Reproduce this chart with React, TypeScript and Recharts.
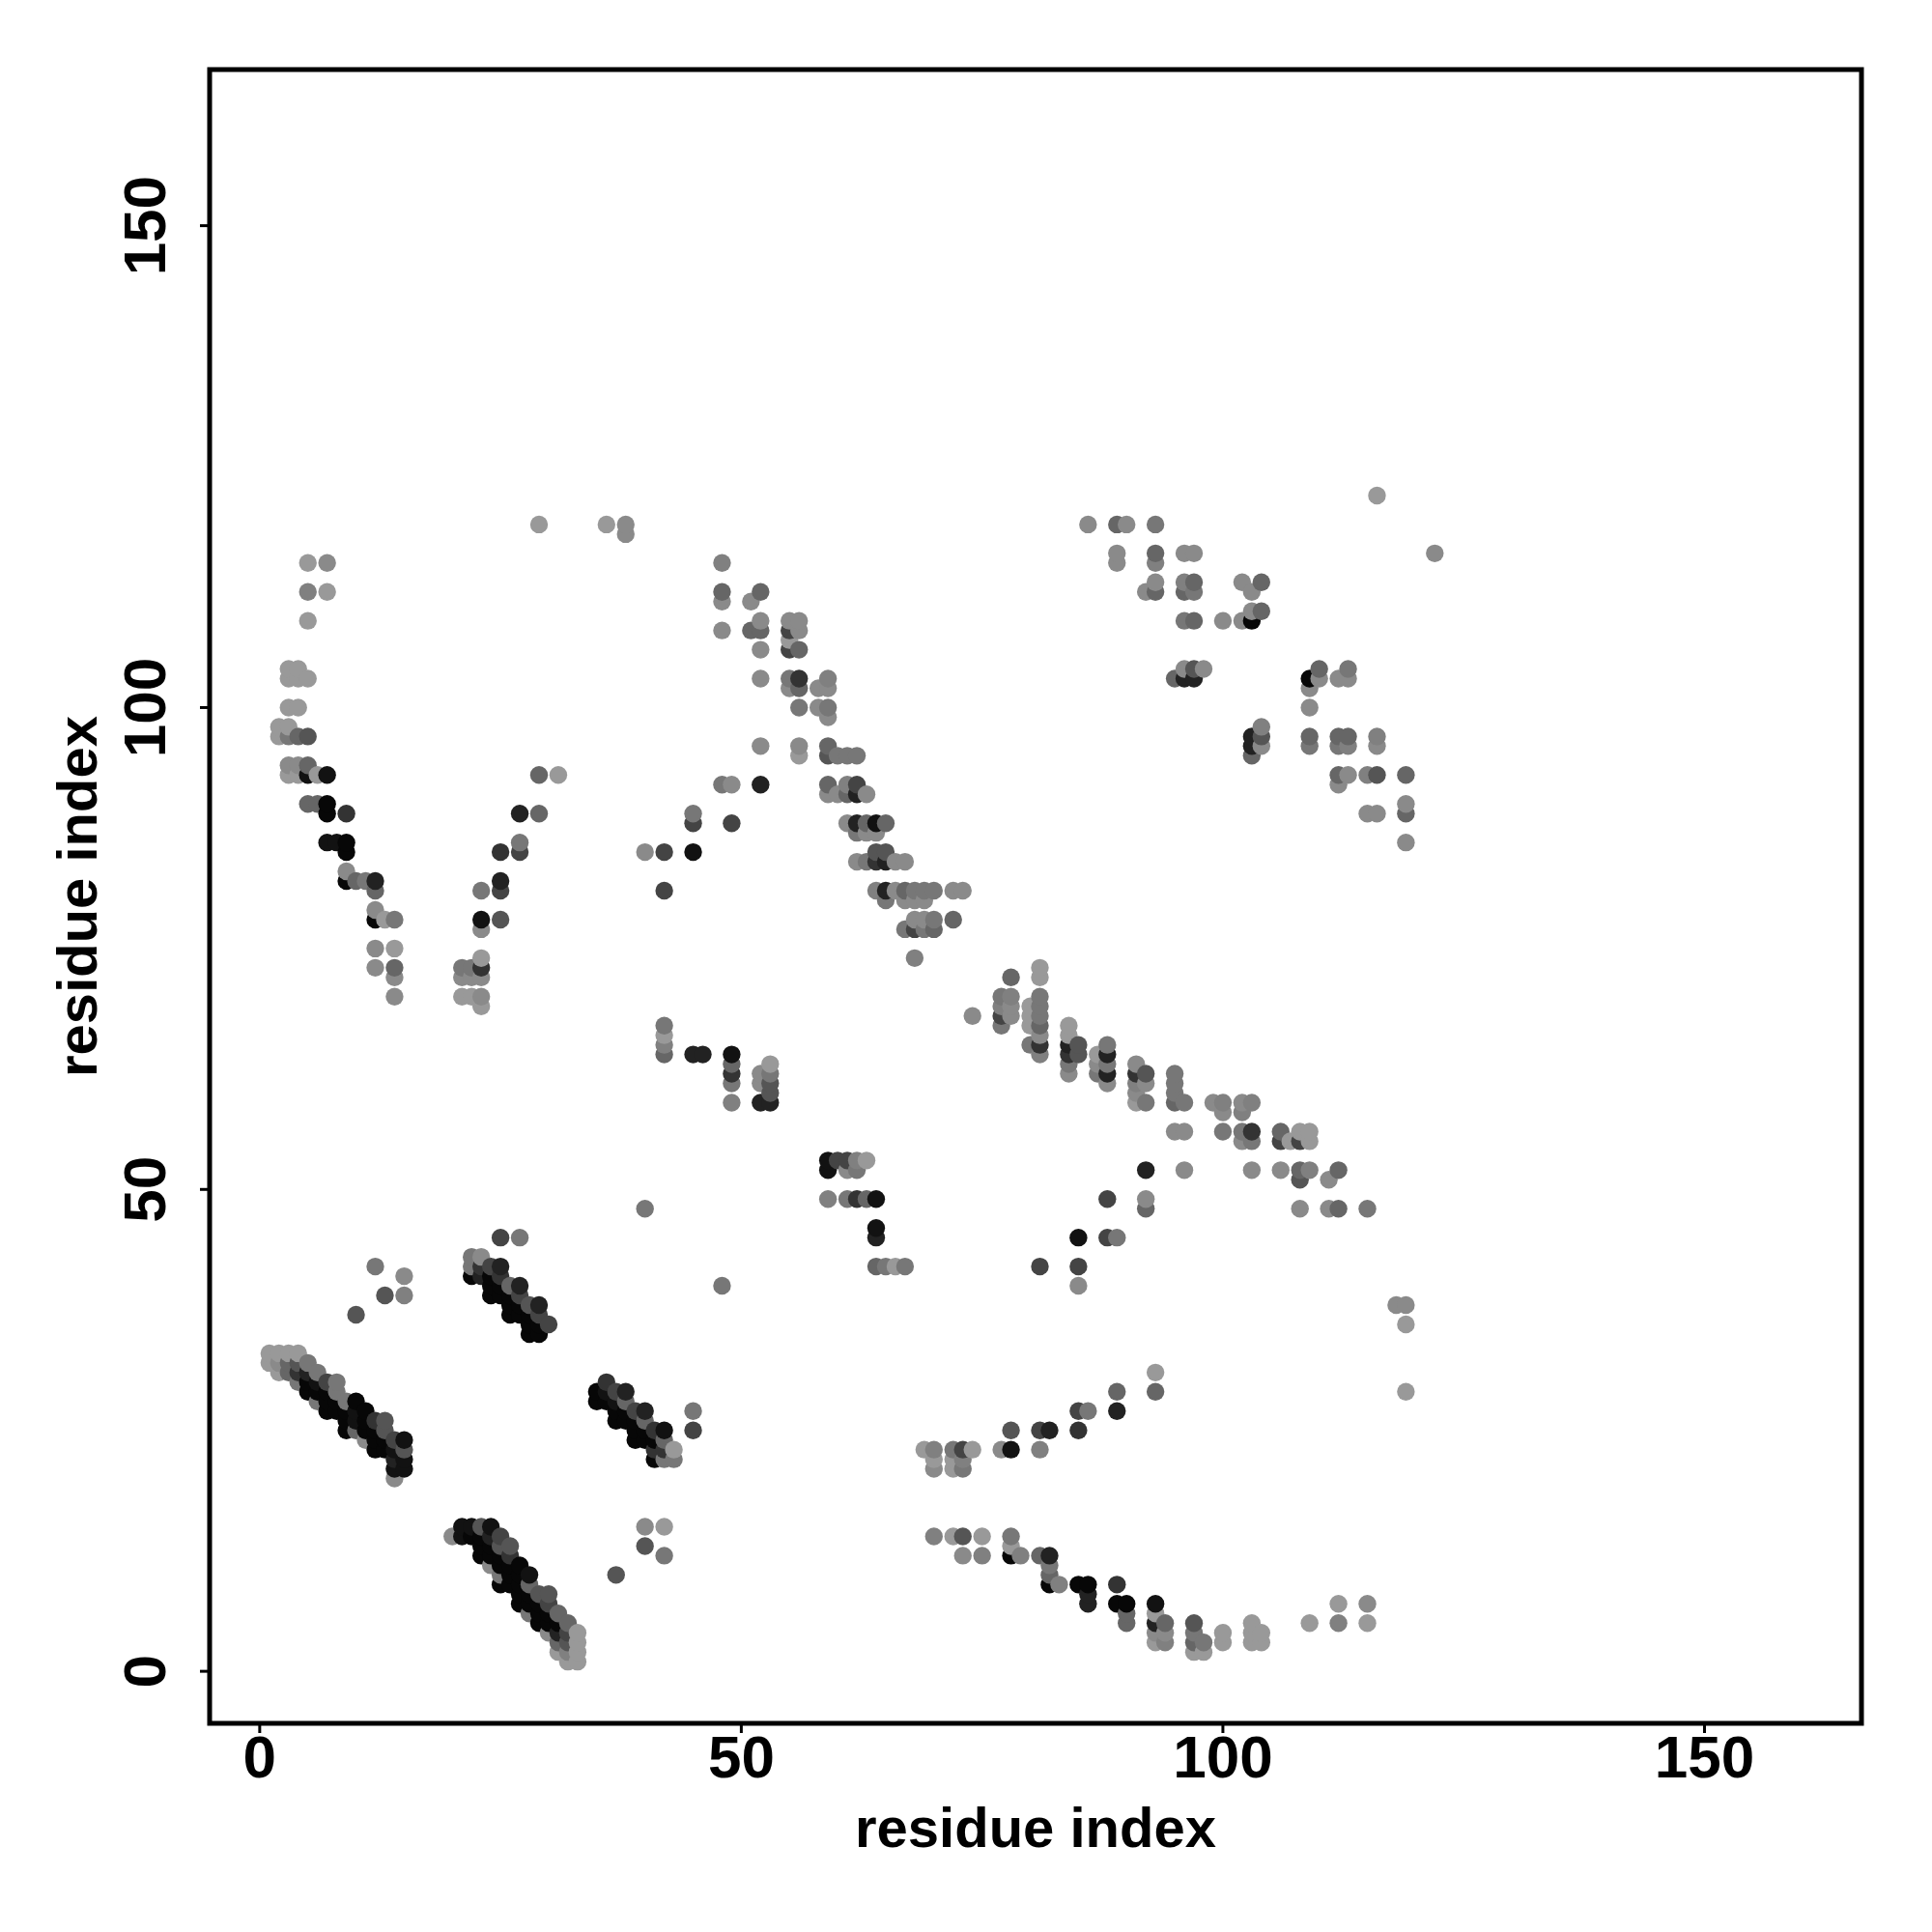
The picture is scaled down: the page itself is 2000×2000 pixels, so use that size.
import React from "react";
import { ScatterChart, Scatter, XAxis, YAxis, ReferenceArea } from "recharts";

type Contact = [number, number, number];

const tickValues = [0, 50, 100, 150];
const xDomain = [-5.2, 166.3];
const yDomain = [-5.4, 166.2];
const axisTitle = "residue index";

// [residue i, residue j, contact strength 1..11]
const diagonalA: Contact[] = [
  [1,33,1],[2,33,1],[3,33,1],[4,33,1],
  [1,32,1],[2,32,2],[3,32,5],[4,32,6],[5,32,4],
  [2,31,1],[3,31,5],[4,31,8],[5,31,9],[6,31,4],
  [4,30,4],[5,30,11],[6,30,10],[7,30,7],[8,30,4],
  [5,29,11],[6,29,11],[7,29,11],[8,29,4],
  [6,28,4],[7,28,11],[8,28,11],[9,28,4],[10,28,11],
  [7,27,11],[8,27,11],[9,27,11],[10,27,10],[11,27,11],
  [9,26,11],[10,26,10],[11,26,11],[12,26,8],[13,26,6],
  [9,25,11],[10,25,5],[11,25,11],[12,25,11],[13,25,6],
  [11,24,2],[12,24,11],[13,24,11],[14,24,7],[15,24,10],
  [12,23,11],[13,23,11],[14,23,10],[15,23,6],
  [14,22,9],[15,22,10],[14,21,10],[15,21,10],[14,20,2],
];
const diagonalB: Contact[] = [
  [21,15,10],[22,15,10],[23,15,6],[24,15,10],
  [20,14,2],[21,14,10],[22,14,11],[23,14,11],[24,14,9],[25,14,7],
  [23,13,11],[24,13,11],[25,13,6],[26,13,6],
  [23,12,11],[24,12,11],[25,12,11],[26,12,8],
  [24,11,2],[25,11,11],[26,11,11],[27,11,11],
  [25,10,4],[26,10,11],[27,10,11],[28,10,10],
  [25,9,11],[26,9,11],[27,9,11],[28,9,5],
  [27,8,11],[28,8,11],[29,8,6],[30,8,6],
  [27,7,11],[28,7,11],[29,7,11],[30,7,7],
  [28,6,4],[29,6,11],[30,6,11],[31,6,5],
  [29,5,11],[30,5,11],[31,5,11],[32,5,5],
  [30,4,2],[31,4,9],[32,4,7],[33,4,1],
  [31,3,5],[32,3,6],[33,3,1],
  [31,2,1],[32,2,3],[33,2,1],[32,1,1],[33,1,1],
];
const diagonalC: Contact[] = [
  [36,30,8],[35,29,11],[36,29,10],[37,29,7],[38,29,9],
  [35,28,11],[36,28,11],[37,28,10],[38,28,5],
  [37,27,11],[38,27,11],[39,27,7],[40,27,9],
  [37,26,11],[38,26,11],[39,26,11],[40,26,5],
  [39,25,11],[40,25,11],[41,25,8],[42,25,10],
  [39,24,11],[40,24,11],[41,24,11],[42,24,5],
  [41,23,8],[42,23,8],[43,23,1],
  [41,22,11],[42,22,4],[43,22,4],
  [45,27,4],[45,25,7],
];
const diagonalD: Contact[] = [
  [25,45,7],[27,45,4],
  [22,43,4],[23,43,2],
  [22,42,4],[23,42,8],[24,42,7],[25,42,9],
  [22,41,11],[23,41,9],[24,41,11],[25,41,8],
  [24,40,11],[25,40,11],[26,40,5],[27,40,9],
  [24,39,11],[25,39,11],[26,39,11],[27,39,7],
  [26,38,11],[27,38,11],[28,38,6],[29,38,9],
  [26,37,11],[27,37,11],[28,37,11],[29,37,7],
  [28,36,11],[29,36,11],[30,36,7],
  [28,35,11],[29,35,11],
];
const looseLow: Contact[] = [
  [12,42,4],[15,41,2],[13,39,6],[15,39,3],[10,37,6],
  [40,15,2],[42,15,1],[40,13,6],[42,12,4],[37,10,6],
  [40,48,4],[48,40,4],
];
const tailLow: Contact[] = [
  [119,38,2],[118,38,2],[119,36,1],[119,29,1],
  [93,31,1],[93,29,5],[89,29,5],[89,27,9],[85,27,7],[86,27,4],
  [78,25,6],[81,25,7],[82,25,9],[85,25,8],
  [69,23,1],[70,23,3],[72,23,4],[73,23,7],[74,23,1],[77,23,2],[78,23,10],[81,23,3],
  [70,22,1],[72,22,1],[73,22,3],[70,21,2],[72,21,1],[73,21,4],
  [70,14,3],[72,14,1],[73,14,6],[75,14,1],[78,14,4],[78,13,1],[78,12,11],[79,12,3],[73,12,2],[75,12,3],
  [81,12,5],[82,12,9],[82,11,4],[82,10,5],[82,9,11],[83,9,3],
  [85,9,11],[86,9,11],[86,8,9],[86,7,9],[89,9,8],[89,7,11],[90,7,11],[90,6,5],[90,5,5],
  [93,7,10],[93,6,1],[93,5,9],[94,5,5],[93,4,2],[94,4,2],[93,3,1],[94,3,3],
  [97,5,6],[97,4,4],[97,3,5],[97,2,1],[98,3,4],[98,2,1],
  [100,4,1],[100,3,1],[103,5,1],[103,4,1],[103,3,1],[104,4,1],[104,3,1],
  [109,5,1],[112,7,1],[112,5,3],[115,7,2],[115,5,1],
];
const armLeft: Contact[] = [
  [5,115,1],[7,115,2],[5,112,3],[7,112,1],[5,109,1],
  [3,104,1],[4,104,1],[3,103,1],[4,103,1],[5,103,1],[3,100,1],[4,100,1],
  [2,98,1],[3,98,1],[2,97,1],[3,97,4],[4,97,5],[5,97,6],
  [3,94,2],[4,94,2],[5,94,5],[3,93,1],[4,93,1],[5,93,10],[6,93,1],[7,93,10],
  [5,90,5],[6,90,5],[7,90,11],[7,89,11],[9,89,8],
  [7,86,10],[8,86,10],[9,86,11],[9,85,11],
  [9,83,2],[9,82,11],[10,82,5],[11,82,4],[12,82,9],[12,81,5],
  [12,79,2],[12,78,11],[13,78,1],[14,78,4],
  [12,75,2],[14,75,1],[12,73,2],[14,73,5],[14,72,2],[14,70,2],
];
const armRight: Contact[] = [
  [21,73,4],[22,73,4],[21,72,2],[22,72,2],[23,72,2],[23,73,8],[23,74,1],
  [21,70,1],[22,70,1],[23,70,2],[23,69,1],
  [23,78,10],[25,78,6],[23,77,2],
  [23,81,4],[25,81,7],[25,82,9],
  [25,85,8],[27,85,7],[27,86,4],
  [27,89,9],[29,89,5],[29,93,5],[31,93,1],
  [29,119,1],[36,119,1],[38,119,2],[38,118,2],
];
const armCentre: Contact[] = [
  [48,115,3],[48,112,5],[52,112,5],[48,111,2],[51,111,2],
  [52,109,2],[55,109,2],[56,109,2],[48,108,2],[51,108,5],[52,108,5],[55,108,7],[56,108,2],
  [55,107,1],[52,106,2],[55,106,7],[56,106,5],
  [52,103,2],[55,103,4],[56,103,8],[55,102,2],[56,102,5],[58,102,2],[59,102,2],[59,103,3],
  [56,100,4],[58,100,2],[59,100,4],[59,99,2],
  [52,96,2],[56,96,2],[59,96,5],[56,95,1],[59,95,6],[60,95,4],[61,95,4],[62,95,4],
  [48,92,4],[49,92,2],[52,92,9],[59,92,5],[61,92,3],[62,92,7],
  [59,91,2],[60,91,2],[61,91,5],[62,91,9],[63,91,2],
  [45,89,4],[45,88,7],[49,88,7],
  [61,88,2],[62,88,9],[63,88,5],[64,88,10],[65,88,5],
  [62,87,4],[63,87,2],[64,87,2],
  [40,85,2],[42,85,7],[45,85,10],[64,85,6],[65,85,6],
  [62,84,2],[63,84,4],[64,84,8],[65,84,9],[66,84,2],[67,84,2],
  [42,81,7],[64,81,3],[65,81,9],[66,81,2],[67,81,5],[68,81,4],[69,81,4],[70,81,4],[72,81,2],[73,81,2],
  [65,80,4],[67,80,2],[68,80,2],[69,80,2],
  [68,78,2],[69,78,2],[70,78,4],[72,78,5],
  [67,77,4],[68,77,7],[69,77,4],[70,77,5],[68,74,3],
];
const midBand: Contact[] = [
  [42,67,4],[42,66,1],[42,65,3],[42,64,5],[45,64,9],[46,64,9],
  [49,64,10],[49,63,5],[49,62,8],[49,61,4],[49,59,3],
  [52,62,2],[52,61,2],[52,59,9],[53,63,1],[53,62,4],[53,61,6],[53,60,6],[53,59,9],
  [59,53,10],[59,52,10],[60,53,7],[61,53,7],[62,53,3],[63,53,1],[61,52,2],[62,52,4],
  [59,49,3],[61,49,4],[62,49,8],[63,49,5],[64,49,10],[64,46,10],[64,45,9],
  [64,42,5],[65,42,4],[66,42,1],[67,42,4],
];
const lowerRightBand: Contact[] = [
  [74,68,2],[78,72,5],[77,70,4],[78,70,3],[77,69,3],[78,69,2],[77,68,7],[78,68,2],[77,67,4],
  [80,69,1],[80,68,1],[80,67,1],[80,65,4],
  [81,73,1],[81,72,1],[81,70,4],[81,69,4],[81,68,4],[81,67,5],[81,66,2],[81,65,8],[81,64,3],
  [84,67,1],[84,66,1],[84,65,9],[84,64,8],[84,63,4],[84,62,2],[85,65,6],[85,64,6],
  [87,64,1],[87,63,2],[87,62,4],[88,65,4],[88,64,9],[88,63,4],[88,62,9],[88,61,2],
  [91,63,2],[91,62,8],[91,61,3],[91,60,2],[91,59,1],[92,62,6],[92,61,2],[92,59,4],
  [95,62,4],[95,61,4],[95,60,4],[95,59,5],[96,59,4],[95,56,2],[96,56,2],
  [99,59,2],[100,59,3],[100,58,2],[100,56,4],[102,59,2],[103,59,3],[102,58,3],
  [102,56,4],[103,56,8],[102,55,2],[103,55,4],
  [106,56,5],[106,55,7],[107,55,1],[108,56,1],[109,56,1],[108,55,7],[109,55,1],
  [92,52,9],[96,52,2],[103,52,2],[106,52,2],[108,52,5],[108,51,6],[109,52,3],[111,51,2],[112,52,5],
  [88,49,7],[92,49,2],[92,48,5],[108,48,2],[111,48,2],[112,48,5],[115,48,4],
  [85,45,10],[88,45,7],[89,45,4],[81,42,7],[85,42,7],[85,40,2],
];
const upperRight: Contact[] = [
  [116,122,1],[86,119,2],[89,119,5],[90,119,2],[93,119,4],[122,116,2],
  [89,116,2],[89,115,2],[93,116,5],[93,115,3],[96,116,2],[97,116,2],
  [92,112,2],[93,113,2],[93,112,5],[96,113,3],[97,113,5],[96,112,5],[97,112,4],
  [102,113,2],[103,112,2],[104,113,5],
  [96,109,4],[97,109,5],[100,109,2],[102,109,2],[103,109,11],[103,110,2],[104,110,5],
  [95,103,5],[96,104,2],[96,103,9],[97,104,6],[97,103,9],[98,104,2],
  [109,103,11],[109,102,2],[110,104,5],[110,103,2],[109,100,2],[112,103,2],[113,104,4],[113,103,2],
  [103,97,9],[103,96,9],[103,95,5],[104,98,3],[104,97,6],[104,96,2],
  [109,97,5],[109,96,4],[112,97,5],[113,97,5],[112,96,4],[113,96,3],[116,97,3],[116,96,2],
  [112,93,5],[112,92,2],[113,93,2],[115,93,3],[116,93,6],[119,93,5],
  [115,89,2],[116,89,2],[119,90,2],[119,89,5],[119,86,2],
];

const shades = ["#ffffff","#999999","#8a8a8a","#808080","#777777","#666666","#555555","#444444","#333333","#222222","#121212","#070707"];

const contacts = [
  ...diagonalA, ...diagonalB, ...diagonalC, ...diagonalD, ...looseLow, ...tailLow,
  ...armLeft, ...armRight, ...armCentre, ...midBand, ...lowerRightBand, ...upperRight,
]
  .map(([i, j, w]) => ({ i, j, w }))
  .sort((a, b) => a.i - b.i || a.j - b.j);

const font = '"Liberation Sans", Arial, sans-serif';

const Dot = (props: any) => (
  <circle cx={props.cx} cy={props.cy} r={9.2} fill={shades[props.payload.w]} />
);

const XTick = (props: any) => (
  <text x={props.x} y={1840} textAnchor="middle" fontFamily={font} fontWeight={700} fontSize={62} fill="#000">
    {props.payload.value}
  </text>
);

const YTick = (props: any) => (
  <text
    x={171}
    y={props.y}
    textAnchor="middle"
    transform={`rotate(-90 171 ${props.y})`}
    fontFamily={font}
    fontWeight={700}
    fontSize={62}
    fill="#000"
  >
    {props.payload.value}
  </text>
);

export default function App() {
  return (
    <div style={{ position: "absolute", left: 0, top: 0, width: 2000, height: 2000, background: "#fff" }}>
      <ScatterChart width={2000} height={2000} margin={{ top: 72, right: 73, bottom: 0, left: 0 }}>
        <XAxis
          type="number"
          dataKey="i"
          domain={xDomain}
          ticks={tickValues}
          allowDataOverflow
          height={216}
          axisLine={false}
          tickLine={{ stroke: "#000", strokeWidth: 3 }}
          tickSize={10}
          tick={<XTick />}
          interval={0}
          label={{
            value: axisTitle,
            position: "insideBottom",
            offset: 88,
            fontFamily: font,
            fontWeight: 700,
            fontSize: 58,
            fill: "#000",
          }}
        />
        <YAxis
          type="number"
          dataKey="j"
          domain={yDomain}
          ticks={tickValues}
          allowDataOverflow
          width={217}
          axisLine={false}
          tickLine={{ stroke: "#000", strokeWidth: 3 }}
          tickSize={10}
          tick={<YTick />}
          interval={0}
          label={{
            value: axisTitle,
            angle: -90,
            position: "insideLeft",
            offset: 79,
            style: { textAnchor: "middle" },
            fontFamily: font,
            fontWeight: 700,
            fontSize: 58,
            fill: "#000",
          }}
        />
        <Scatter data={contacts} isAnimationActive={false} shape={<Dot />} />
        <ReferenceArea
          x1={xDomain[0]}
          x2={xDomain[1]}
          y1={yDomain[0]}
          y2={yDomain[1]}
          fill="none"
          stroke="#000"
          strokeWidth={5}
          ifOverflow="visible"
        />
      </ScatterChart>
    </div>
  );
}
